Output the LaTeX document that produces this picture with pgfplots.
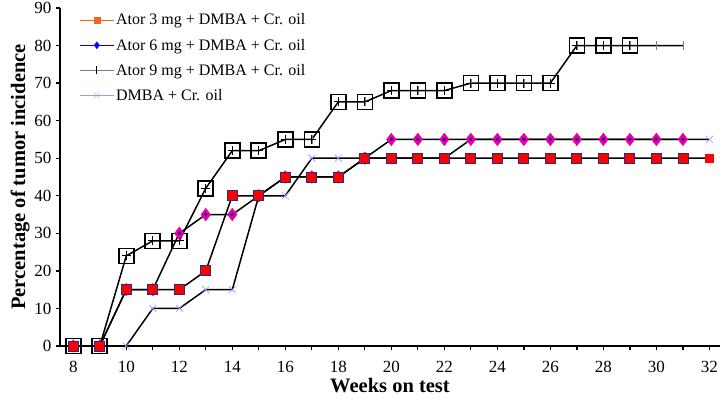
\documentclass[border=0pt]{standalone}
\usepackage{fontspec}
\setmainfont{Liberation Serif}
\usepackage{pgfplots}
\pgfplotsset{compat=1.18}
\definecolor{legorange}{HTML}{F26522}
\definecolor{legblue}{HTML}{0000FF}
\definecolor{lav}{HTML}{9999FF}
\definecolor{navyb}{HTML}{2A2A80}
\begin{document}
\begin{tikzpicture}
\useasboundingbox (-60pt,-57pt) rectangle (662pt,346pt);
\begin{axis}[
  at={(0,0)}, anchor=south west,
  scale only axis, width=660pt, height=338pt,
  xmin=7.5, xmax=32.4, ymin=0, ymax=90,
  axis x line=bottom, axis y line=left,
  axis line style={line width=1.6pt, -},
  xtick={8,10,...,32}, minor xtick={9,11,...,31},
  ytick={0,10,...,90},
  tick align=outside,
  major tick length=4pt, minor tick length=4pt,
  every tick/.style={line width=1.3pt, black},
  /pgf/number format/assume math mode=true,
  tick label style={font=\fontsize{17}{19}\selectfont},
  xticklabel style={yshift=-8pt},
  yticklabel style={xshift=-1pt},
  xlabel={\textbf{Weeks on test}},
  ylabel={\textbf{Percentage of tumor incidence}},
  label style={font=\fontsize{20.5}{23}\selectfont},
  xlabel style={yshift=2pt},
  ylabel style={yshift=-2pt},
  clip=false,
  legend style={draw=none, fill=none, at={(axis description cs:0.025,0.995)}, anchor=north west,
     font=\fontsize{16}{18}\selectfont, row sep=8.5pt},
  legend cell align=left,
  legend image code/.code={\draw[#1] (0pt,0pt) -- (34pt,0pt); \draw[#1] plot[mark repeat=2, mark phase=2] coordinates {(0pt,0pt) (17pt,0pt) (34pt,0pt)};},
]
\addlegendimage{legorange, line width=0.4pt, mark=square*, mark size=3pt, mark options={solid}}
\addlegendentry{Ator 3 mg + DMBA + Cr. oil}
\addlegendimage{legblue, line width=0.4pt, mark=diamond*, mark size=3.5pt}
\addlegendentry{Ator 6 mg + DMBA + Cr. oil}
\addlegendimage{gray, line width=0.4pt, mark=|, mark size=4pt, mark options={black, line width=0.8pt}}
\addlegendentry{Ator 9 mg + DMBA + Cr. oil}
\addlegendimage{lav, line width=0.4pt, mark=x, mark size=4pt}
\addlegendentry{DMBA + Cr. oil}

% DMBA + Cr. oil
\addplot[forget plot, black, line width=1.5pt, mark=x, mark size=5pt, mark options={lav, line width=0.6pt}] coordinates {
(8,0)(9,0)(10,0)(11,10)(12,10)(13,15)(14,15)(15,40)(16,40)(17,50)(18,50)(19,50)(20,50)(21,50)(22,50)
(23,55)(24,55)(25,55)(26,55)(27,55)(28,55)(29,55)(30,55)(31,55)(32,55)};

% Ator 9 mg
\addplot[forget plot, black, line width=1.5pt, mark=|, mark size=4.5pt, mark options={gray, line width=0.6pt}] coordinates {
(8,0)(9,0)(10,24)(11,28)(12,28)(13,42)(14,52)(15,52)(16,55)(17,55)(18,65)(19,65)(20,68)(21,68)(22,68)
(23,70)(24,70)(25,70)(26,70)(27,80)(28,80)(29,80)(30,80)(31,80)};
\addplot[forget plot, only marks, mark=square, mark size=7.5pt, mark options={black, line width=1.6pt}] coordinates {
(8,0)(9,0)(10,24)(11,28)(12,28)(13,42)(14,52)(15,52)(16,55)(17,55)(18,65)(19,65)(20,68)(21,68)(22,68)
(23,70)(24,70)(25,70)(26,70)(27,80)(28,80)(29,80)};
\addplot[forget plot, only marks, mark=+, mark size=4.5pt, mark options={black, line width=0.8pt}] coordinates {
(8,0)(9,0)(10,24)(11,28)(12,28)(13,42)(14,52)(15,52)(16,55)(17,55)(18,65)(19,65)(20,68)(21,68)(22,68)
(23,70)(24,70)(25,70)(26,70)(27,80)(28,80)(29,80)};

% Ator 6 mg
\addplot[forget plot, black, line width=1.5pt, mark=diamond*, mark size=5.5pt, mark options={magenta, draw=magenta}] coordinates {
(8,0)(9,0)(10,15)(11,15)(12,30)(13,35)(14,35)(15,40)(16,45)(17,45)(18,45)(19,50)(20,55)(21,55)(22,55)
(23,55)(24,55)(25,55)(26,55)(27,55)(28,55)(29,55)(30,55)(31,55)};
\addplot[forget plot, only marks, mark=*, mark size=1.6pt, mark options={blue, draw=blue}] coordinates {
(12,30)(13,35)(14,35)(20,55)(21,55)(22,55)
(23,55)(24,55)(25,55)(26,55)(27,55)(28,55)(29,55)(30,55)(31,55)};

% Ator 3 mg
\addplot[forget plot, black, line width=1.5pt, mark=square*, mark size=5pt, mark indices={1,...,24}, mark options={fill=red, draw=navyb, line width=0.8pt}] coordinates {
(8,0)(9,0)(10,15)(11,15)(12,15)(13,20)(14,40)(15,40)(16,45)(17,45)(18,45)(19,50)(20,50)(21,50)(22,50)
(23,50)(24,50)(25,50)(26,50)(27,50)(28,50)(29,50)(30,50)(31,50)(32,50)};
\addplot[forget plot, only marks, mark=square*, mark size=4pt, mark options={fill=red, draw=red}] coordinates {(32,50)};
\end{axis}
\end{tikzpicture}
\end{document}
